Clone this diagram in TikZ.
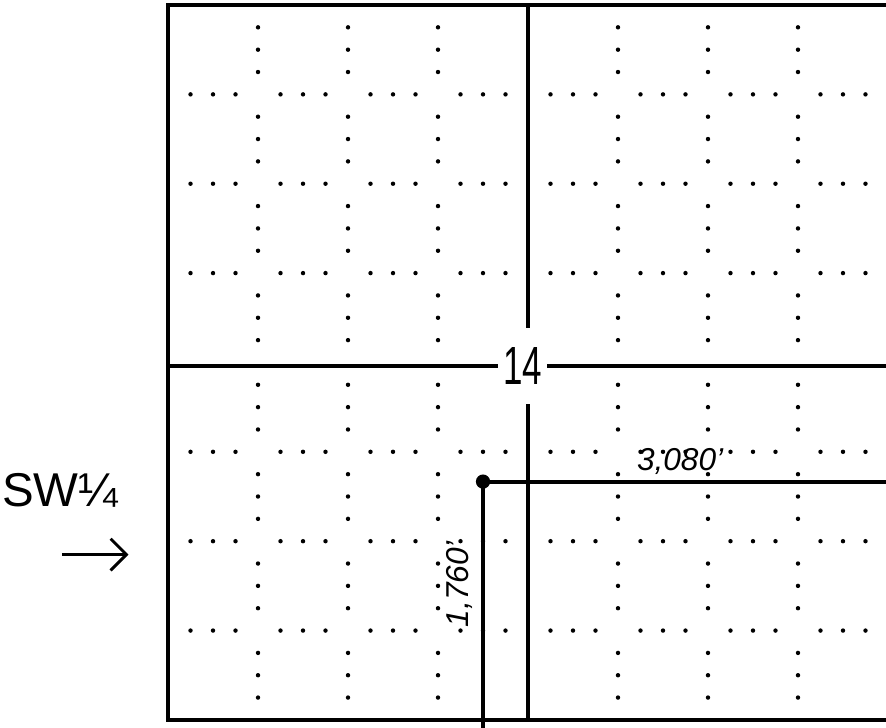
\documentclass[tikz,border=0pt]{standalone}
\usepackage{fontspec}
\setmainfont{Liberation Sans}
\usetikzlibrary{arrows.meta, positioning}

\begin{document}
\begin{tikzpicture}[
    y=0.993cm,
    sec/.style={line width=1.1pt},
    survey/.style={line width=1.3pt},
    lbl/.style={font=\fontsize{10}{12}\selectfont\itshape, inner sep=1pt}
]
\useasboundingbox (-1.867,-0.0895) rectangle (7.978,8.056);

% section outline
\draw[sec] (0,0) rectangle (8,8);

% quarter-quarter dot lines
\foreach \i in {1,2,3,5,6,7} {
  \foreach \j in {0,...,7} {
    \foreach \f in {0.25,0.5,0.75} {
      \fill (\j+\f,\i) circle (0.7pt);
      \fill (\i,\j+\f) circle (0.7pt);
    }
  }
}

% section number and quarter lines
\node[font=\fontsize{17}{19}\selectfont, inner xsep=1.5pt, inner ysep=6pt] (sec14) at (3.94,3.96) {\scalebox{0.65}[1]{14}};
\coordinate (west) at (0,3.96);
\coordinate (east) at (8,3.96);
\coordinate (north) at (4,8);
\coordinate (south) at (4,0);
\draw[sec] (west) -- (sec14.west);
\draw[sec] (sec14.east) -- (east);
\draw[sec] (north) -- (north |- sec14.north);
\draw[sec] (south) -- (south |- sec14.south);

% survey lines
\node[circle, fill, inner sep=0pt, minimum size=4.5pt] (corner) at (3.5,2.667) {};
\coordinate (eline) at (8,2.667);
\coordinate (sline) at (3.5,-0.0895);
\draw[survey] (corner.center) -- (eline);
\draw[survey] (corner.center) -- (sline);
\node[lbl, anchor=south] (dist1) at (5.69,2.70) {3,080'};
\node[lbl, rotate=90, anchor=south] (dist2) at (3.43,1.52) {1,760'};

% quarter label
\node[font=\fontsize{15}{17}\selectfont] (quarter) at (-1.2,2.57) {SW¼};
\coordinate (arrtail) at (-1.18,1.85);
\coordinate (arrhead) at (-0.44,1.85);
\draw[-{Straight Barb[length=5pt,width=10pt]}, line width=0.9pt] (arrtail) -- (arrhead);
\end{tikzpicture}
\end{document}
